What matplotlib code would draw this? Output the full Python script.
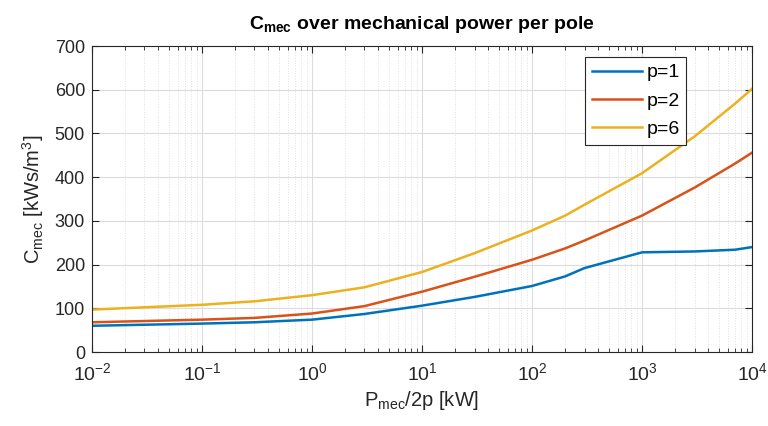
import matplotlib
matplotlib.use('Agg')
from matplotlib import pyplot as plt
from matplotlib.ticker import LogLocator, NullFormatter

# power per pole [kW] and C_mec values
p_mec = [0.01, 0.1, 0.3, 1, 3, 10, 30, 100, 200, 300, 1000, 3000, 7000, 10000]
c_p1 = [60, 65, 68, 74, 87, 106, 126, 151, 173, 192, 228, 230, 234, 240]
c_p2 = [68, 74, 78, 88, 105, 138, 172, 211, 237, 255, 312, 376, 431, 456]
c_p6 = [97, 108, 116, 130, 148, 183, 226, 278, 312, 337, 409, 493, 568, 602]
labels = ['p=1', 'p=2', 'p=6']
colors = ['#0072BD', '#D95319', '#EDB120']

plt.rcParams['font.family'] = ['Liberation Sans', 'DejaVu Sans']
plt.rcParams['mathtext.fontset'] = 'custom'
plt.rcParams['mathtext.rm'] = 'Liberation Sans'
plt.rcParams['mathtext.it'] = 'Liberation Sans:italic'
plt.rcParams['mathtext.bf'] = 'Liberation Sans:bold'

dark = '#262626'
fig = plt.figure(figsize=(7.68, 4.26), dpi=100)
ax = fig.add_axes([0.1198, 0.1737, 0.8594, 0.7183])

for vals, lab, col in zip([c_p1, c_p2, c_p6], labels, colors):
    ax.plot(p_mec, vals, color=col, lw=1.8, label=lab)

ax.set_xscale('log')
ax.set_xlim(1e-2, 1e4)
ax.set_ylim(0, 700)
ax.set_yticks(range(0, 701, 100))
ax.xaxis.set_major_locator(LogLocator(base=10, numticks=10))
ax.xaxis.set_minor_locator(LogLocator(base=10, subs=range(2, 10), numticks=100))
ax.xaxis.set_minor_formatter(NullFormatter())

ax.grid(True, which='major', color='#dcdcdc', lw=0.8)
ax.grid(True, which='minor', axis='x', color='#e0e0e0', lw=0.7, linestyle=':')
ax.set_axisbelow(True)

ax.tick_params(which='both', direction='in', top=True, right=True, colors=dark)
ax.tick_params(axis='y', labelsize=13, pad=5)
ax.tick_params(axis='x', labelsize=14, pad=7)
ax.tick_params(which='major', length=5, width=0.8)
ax.tick_params(which='minor', length=3, width=0.6)
for s in ax.spines.values():
    s.set_color(dark)
    s.set_linewidth(0.8)

ax.set_title(r'$\mathbf{C_{mec}}$ over mechanical power per pole',
             fontsize=14, fontweight='bold', color='black', pad=12)
ax.set_xlabel(r'$\mathrm{P_{mec}}$/2p [kW]', fontsize=14.5, color=dark,
              labelpad=4)
ax.set_ylabel(r'$\mathrm{C_{mec}}$ [kWs/m$^3$]', fontsize=14.5, color=dark,
              labelpad=6)

leg = ax.legend(loc='upper left', bbox_to_anchor=(0.747, 0.964), fontsize=14,
                fancybox=False, framealpha=1, edgecolor=dark,
                handlelength=2.6, handletextpad=0.2, labelspacing=0.55,
                borderpad=0.35, borderaxespad=0)
leg.get_frame().set_linewidth(0.8)

fig.savefig('out.png', dpi=100)
